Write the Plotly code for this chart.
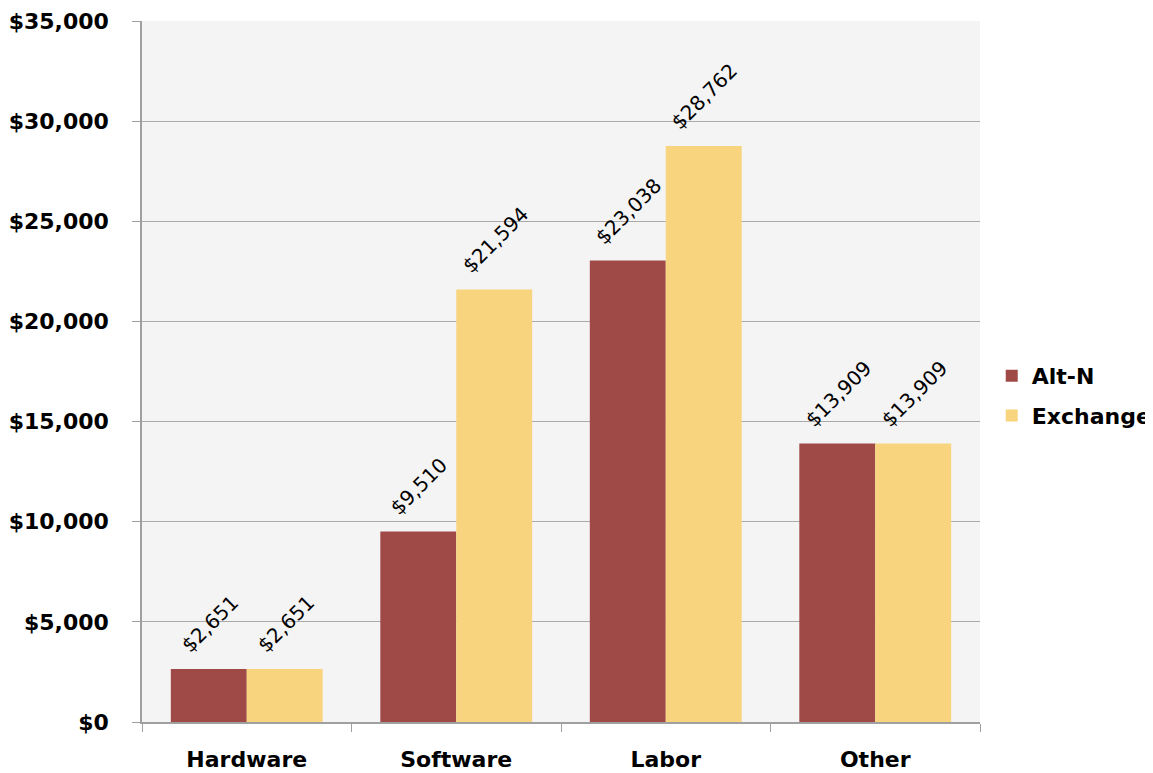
import plotly.graph_objects as go

categories = ["Hardware", "Software", "Labor", "Other"]
alt_n = [2651, 9510, 23038, 13909]
exchange = [2651, 21594, 28762, 13909]
y_ticks = [0, 5000, 10000, 15000, 20000, 25000, 30000, 35000]

FONT = "DejaVu Sans"

def lbl(v):
    return "${:,}".format(v)

fig = go.Figure()
fig.add_trace(go.Bar(name="Alt-N", x=categories, y=alt_n, marker_color="#a04a47",
                     marker_line_width=0, legendgroup="a"))
fig.add_trace(go.Bar(name="Exchange", x=categories, y=exchange, marker_color="#f8d47e",
                     marker_line_width=0, legendgroup="b"))

for vals, shift in ((alt_n, -38), (exchange, 38)):
    for c, v in zip(categories, vals):
        fig.add_annotation(x=c, y=v, xref="x", yref="y", text=lbl(v), showarrow=False,
                           textangle=-45, xshift=shift + 1, yshift=9,
                           xanchor="center", yanchor="bottom",
                           font=dict(family=FONT, size=20, color="black"))

fig.update_layout(
    width=1145, height=765,
    margin=dict(l=134, r=173, t=13, b=51, autoexpand=False),
    paper_bgcolor="white", plot_bgcolor="#f4f4f4",
    barmode="group", bargap=0.275, bargroupgap=0,
    font=dict(family=FONT, color="black"),
    legend=dict(x=1.014, y=0.465, yanchor="middle", xanchor="left",
                font=dict(family=FONT, size=22, weight="bold"),
                itemsizing="constant", tracegroupgap=8),
    showlegend=True,
)
fig.update_xaxes(showline=True, linecolor="#a0a0a0", linewidth=1.5,
                 ticks="outside", tickson="boundaries", ticklen=8, tickcolor="#a0a0a0",
                 ticklabelstandoff=17, automargin=False, ticklabeloverflow="allow",
                 tickfont=dict(family=FONT, size=22, weight="bold"))
fig.update_yaxes(range=[0, 35000], tickvals=y_ticks,
                 ticktext=["${:,}".format(t) for t in y_ticks],
                 showline=True, linecolor="#a0a0a0", linewidth=1.5,
                 ticks="outside", ticklen=8, tickcolor="#a0a0a0",
                 ticklabelstandoff=19, automargin=False, ticklabeloverflow="allow",
                 showgrid=True, gridcolor="#aaaaaa", gridwidth=1.2,
                 zeroline=False,
                 tickfont=dict(family=FONT, size=22, weight="bold"))

fig.write_html("out.html")
